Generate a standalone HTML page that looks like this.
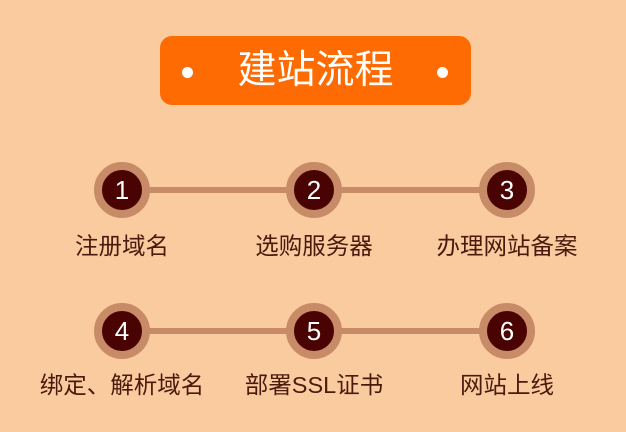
<!DOCTYPE html>
<html><head><meta charset="utf-8"><style>
body{margin:0;width:626px;height:432px;background:#fbcba0;position:relative;overflow:hidden;font-family:"Liberation Sans","Noto Sans CJK SC",sans-serif}
.box{position:absolute;left:160px;top:36px;width:311px;height:69px;background:#fd6b02;border-radius:12px}
.t{position:absolute;left:160px;top:36px;width:311px;height:69px;line-height:69px;text-align:center;color:#fff;font-size:39px}
.dot{position:absolute;width:11px;height:11px;border-radius:50%;background:#fff;top:67px}
.line{position:absolute;height:6px;background:#c88b67}
.c{position:absolute;width:40px;height:40px;border-radius:50%;background:#4a0303;border:8px solid #c88b67;color:#fff;font-size:26px;text-align:center;line-height:40px}
.l{position:absolute;width:220px;text-align:center;color:#4a1a0c;font-size:23.5px;line-height:28px}
</style></head><body>
<div class="box"></div><div class="t">建站流程</div>
<div class="dot" style="left:182px"></div><div class="dot" style="left:437px"></div>
<div class="line" style="left:122px;width:385px;top:187px"></div>
<div class="line" style="left:122px;width:385px;top:328px"></div>
<div class="c" style="left:94px;top:162px">1</div>
<div class="c" style="left:286px;top:162px">2</div>
<div class="c" style="left:479px;top:162px">3</div>
<div class="c" style="left:94px;top:303px">4</div>
<div class="c" style="left:286px;top:303px">5</div>
<div class="c" style="left:479px;top:303px">6</div>
<div class="l" style="left:12px;top:232px">注册域名</div>
<div class="l" style="left:204px;top:232px">选购服务器</div>
<div class="l" style="left:397px;top:232px">办理网站备案</div>
<div class="l" style="left:12px;top:371px">绑定、解析域名</div>
<div class="l" style="left:204px;top:371px">部署SSL证书</div>
<div class="l" style="left:397px;top:371px">网站上线</div>
</body></html>
